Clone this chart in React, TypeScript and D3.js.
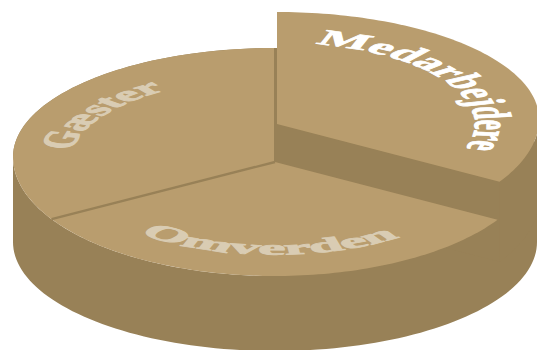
import React from "react";
import * as d3 from "d3";

// Slice shares, in drawing order from twelve o'clock clockwise.
const categories = ["Medarbejdere", "Omverden", "Gæster"];
const shares = [33.85, 32.4, 33.75];

const WIDTH = 537;
const HEIGHT = 350;
const RX = 262;
const SQUASH = 114 / RX;

const TOP = "#b99d6e";
const SIDE = "#988157";
const LABEL_SOFT = "#d9ccb3";

type Rim = { cx: number; cy: number; rTop: number; rBottom: number };

// The disc rim is slightly egg shaped: the far half is flatter than the near half.
const mainRim: Rim = { cx: 275, cy: 157, rTop: 109, rBottom: 119 };
const raisedRim: Rim = { cx: 277, cy: 119, rTop: 107, rBottom: 119 };
const baseRim: Rim = { cx: 275, cy: 242, rTop: 109, rBottom: 109 };
const mainApex: [number, number] = [275, 162];
const raisedApex: [number, number] = [277, 124];
const raisedDrop = 80;

const slices = d3.pie<number>().sort(null).value((d) => d)(shares);

// Rim position for a clock angle in radians.
function onRim(rim: Rim, a: number): [number, number] {
  const c = Math.cos(a);
  return [rim.cx + RX * Math.sin(a), rim.cy - (c > 0 ? rim.rTop : rim.rBottom) * c];
}

function rimPoints(rim: Rim, a0: number, a1: number) {
  return d3.range(0, 97).map((i) => onRim(rim, a0 + ((a1 - a0) * i) / 96));
}

const polygon = (pts: [number, number][]) => d3.line()(pts) + "Z";

const sector = (rim: Rim, apex: [number, number], a0: number, a1: number) =>
  polygon([apex, ...rimPoints(rim, a0, a1)]);

function circlePath(r: number, a0Deg: number, a1Deg: number) {
  const p = d3.path();
  const a0 = (a0Deg * Math.PI) / 180;
  const a1 = (a1Deg * Math.PI) / 180;
  p.moveTo(r * Math.cos(a0), r * Math.sin(a0));
  p.arc(0, 0, r, a0, a1, a1 < a0);
  return p.toString();
}

// Curved label settings: baseline radius, screen angles, length along the baseline.
const labelArcs = [
  { id: "lab-a", r: 187, a0: -79, a1: 18, sx: 1.06, size: 50, len: 316, weight: 1.4, fill: "#ffffff", origin: raisedApex },
  { id: "lab-b", r: 213, a0: 129.5, a1: 54, sx: 1, size: 46, len: 280, weight: 1.7, fill: LABEL_SOFT, origin: mainApex },
  { id: "lab-c", r: 195, a0: -172, a1: -122, sx: 1.05, size: 46, len: 170, weight: 1.7, fill: LABEL_SOFT, origin: mainApex },
];

export default function App() {
  const [raised, lower, left] = slices;
  const q = Math.PI / 2;
  const body = polygon([...rimPoints(mainRim, -q, q), ...rimPoints(baseRim, q, 3 * q), ...rimPoints(mainRim, 3 * q, 2 * q)]);
  const [tipX, tipY] = onRim(raisedRim, raised.endAngle);
  const cutWall = polygon([
    raisedApex,
    [tipX, tipY],
    [tipX, tipY + raisedDrop],
    [raisedApex[0], raisedApex[1] + raisedDrop],
  ]);
  const outerWall = polygon([
    ...rimPoints(raisedRim, q, raised.endAngle),
    ...rimPoints(raisedRim, q, raised.endAngle)
      .reverse()
      .map(([x, y]) => [x, y + raisedDrop] as [number, number]),
  ]);
  const spokeEnd = onRim(mainRim, left.startAngle);

  return (
    <svg
      width={WIDTH}
      height={HEIGHT}
      viewBox={`0 0 ${WIDTH} ${HEIGHT}`}
      style={{ position: "absolute", left: 0, top: 0, display: "block" }}
    >
      {/* cylinder body */}
      <path d={body} fill={SIDE} />

      {/* raised slice: cut wall, outer wall, top */}
      <path d={cutWall} fill={SIDE} />
      <path d={outerWall} fill={SIDE} />
      <path d={sector(raisedRim, raisedApex, raised.startAngle, raised.endAngle)} fill={TOP} />

      {/* remaining tops, with the seams between them */}
      <path d={sector(mainRim, mainApex, lower.startAngle, lower.endAngle)} fill={TOP} />
      <path d={sector(mainRim, mainApex, left.startAngle, left.endAngle)} fill={TOP} />
      <line x1={mainApex[0]} y1={mainApex[1]} x2={spokeEnd[0]} y2={spokeEnd[1]} stroke={SIDE} strokeWidth={2.4} />
      <line x1={mainApex[0]} y1={mainApex[1]} x2={mainApex[0]} y2={48} stroke={SIDE} strokeWidth={2} />

      {/* curved labels */}
      {labelArcs.map((l, i) => (
        <g key={l.id} transform={`translate(${l.origin[0]},${l.origin[1]}) scale(${l.sx},${SQUASH})`}>
          <path id={l.id} d={circlePath(l.r, l.a0, l.a1)} fill="none" />
          <text
            fontFamily="'Liberation Serif', serif"
            fontWeight={700}
            fontSize={l.size}
            fill={l.fill}
            stroke={l.fill}
            strokeWidth={l.weight}
          >
            <textPath href={`#${l.id}`} textLength={l.len} lengthAdjust="spacingAndGlyphs">
              {categories[i]}
            </textPath>
          </text>
        </g>
      ))}
    </svg>
  );
}
